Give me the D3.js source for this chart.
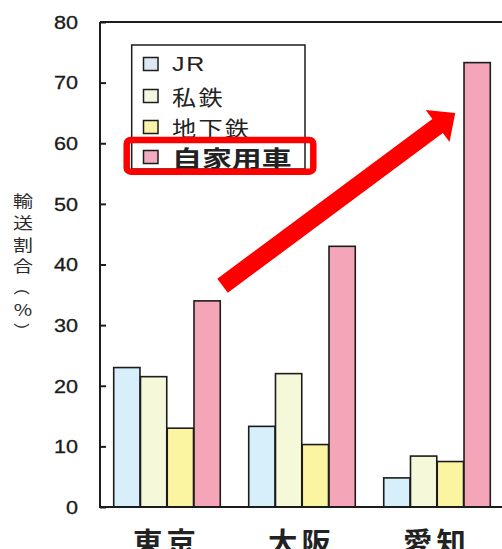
<!DOCTYPE html>
<html>
<head>
<meta charset="utf-8">
<script src="https://cdn.jsdelivr.net/npm/d3@7/dist/d3.min.js"></script>
<style>
  html, body { margin: 0; padding: 0; background: #ffffff; }
  svg { display: block; }
</style>
</head>
<body>
<svg id="chart" width="502" height="549"></svg>
<script>
// Transport share by mode in three metropolitan areas (%)
const categories = ["東京", "大阪", "愛知"];
const seriesNames = ["JR", "私鉄", "地下鉄", "自家用車"];
const jrValues = [23, 13.3, 4.8];
const privateRailValues = [21.5, 22, 8.4];
const subwayValues = [13, 10.3, 7.5];
const carValues = [34, 43, 73.3];
const yTicks = [0, 10, 20, 30, 40, 50, 60, 70, 80];
// Vertical title; parentheses are rotated to sit in the column
const yTitleChars = ["輸", "送", "割", "合", "（", "%", "）"];

const seriesValues = [jrValues, privateRailValues, subwayValues, carValues];
const fills = ["#d7effb", "#f5f8d9", "#fbf5a2", "#f4a5b8"];
const swatchFills = ["#dde8f3", "#f3f6e2", "#f8f3a8", "#f2aac0"];

const svg = d3.select("#chart");
const plot = { left: 100, right: 503, top: 22, bottom: 507 };
const ink = "#1c1c1c";
const cjk = "'Noto Sans CJK JP', 'Noto Sans', sans-serif";

const x0 = d3.scaleBand()
  .domain(categories)
  .range([plot.left, plot.right])
  .paddingInner(0.207)
  .paddingOuter(0.096);

const x1 = d3.scaleBand()
  .domain(seriesNames)
  .range([0, x0.bandwidth()]);

const y = d3.scaleLinear().domain([0, 80]).range([plot.bottom, plot.top]);

// Bars
const groups = svg.append("g").selectAll("g")
  .data(categories)
  .join("g")
  .attr("transform", d => `translate(${x0(d)},0)`);

groups.selectAll("rect")
  .data((c, ci) => seriesNames.map((s, si) => ({ s, si, v: seriesValues[si][ci] })))
  .join("rect")
  .attr("x", d => x1(d.s) + 0.75)
  .attr("width", x1.bandwidth() - 0.5)
  .attr("y", d => y(d.v))
  .attr("height", d => y(0) - y(d.v))
  .attr("fill", d => fills[d.si])
  .attr("stroke", ink)
  .attr("stroke-width", 1.6);

// Frame: left axis, top edge, baseline
const frame = svg.append("g").attr("stroke", ink).attr("stroke-width", 2).attr("fill", "none");
frame.append("line").attr("x1", plot.left).attr("x2", plot.left).attr("y1", plot.top).attr("y2", plot.bottom);
frame.append("line").attr("x1", plot.left).attr("x2", 502).attr("y1", plot.top).attr("y2", plot.top);
frame.append("line").attr("x1", plot.left - 1).attr("x2", 502).attr("y1", plot.bottom).attr("y2", plot.bottom);

// Y axis: inward ticks, labels on the left
const yAxis = d3.axisLeft(y).tickValues(yTicks).tickSize(-6).tickPadding(0).tickFormat(d3.format("d"));
const yAxisG = svg.append("g").attr("transform", `translate(${plot.left},0)`).call(yAxis);
yAxisG.select(".domain").remove();
yAxisG.selectAll(".tick line").attr("stroke", ink).attr("stroke-width", 2);
yAxisG.selectAll(".tick text")
  .attr("x", null).attr("dy", null)
  .attr("font-family", "'Liberation Sans', Arial, sans-serif")
  .attr("font-size", 18)
  .attr("fill", "#1a1a1a")
  .attr("stroke", "#1a1a1a").attr("stroke-width", 0.3)
  .attr("text-anchor", "end")
  .attr("dominant-baseline", "central")
  .attr("transform", "translate(-22,0) scale(1.2,1)");

// Y axis title, stacked vertically
svg.append("g").selectAll("text")
  .data(yTitleChars)
  .join("text")
  .attr("transform", (d, i) => {
    const base = `translate(23,${200 + i * 21.8})`;
    return (d === "（" || d === "）") ? `${base} rotate(90)` : `${base} scale(1.25,1)`;
  })
  .attr("text-anchor", "middle")
  .attr("dominant-baseline", "central")
  .attr("font-family", cjk)
  .attr("font-size", 16)
  .attr("fill", "#2a2a2a")
  .text(d => d);

// Category labels
svg.append("g").selectAll("text")
  .data(categories)
  .join("text")
  .attr("transform", d => `translate(${x0(d) + x0.bandwidth() / 2 - 2},553) scale(1.05,1)`)
  .attr("text-anchor", "middle")
  .attr("font-family", cjk)
  .attr("font-weight", "bold")
  .attr("font-size", 28)
  .attr("letter-spacing", 4)
  .attr("dx", 2)
  .attr("fill", "#222")
  .text(d => d);

// Legend
const legend = svg.append("g");
legend.append("rect")
  .attr("x", 131.7).attr("y", 45).attr("width", 173.3).attr("height", 124)
  .attr("fill", "#fff").attr("stroke", ink).attr("stroke-width", 1.5);

const rowY = [64, 96, 127, 157];
const rows = legend.selectAll("g.row")
  .data(seriesNames)
  .join("g")
  .attr("class", "row")
  .attr("transform", (d, i) => `translate(0,${rowY[i]})`);

rows.append("rect")
  .attr("x", 143.5).attr("y", -6.5).attr("width", 14.5).attr("height", 13)
  .attr("fill", (d, i) => swatchFills[i])
  .attr("stroke", ink).attr("stroke-width", 1.5);

rows.append("text")
  .attr("transform", (d, i) => i === 0 ? "translate(172,0) scale(1.25,1)"
    : i === 3 ? "translate(172,0) scale(1.3,1)" : "translate(172,0) scale(1.15,1)")
  .attr("dominant-baseline", "central")
  .attr("font-family", (d, i) => i === 0 ? "'Liberation Sans', Arial, sans-serif" : cjk)
  .attr("font-size", (d, i) => i === 0 ? 20 : i === 3 ? 23 : 21)
  .attr("font-weight", (d, i) => i === 3 ? "bold" : "normal")
  .attr("letter-spacing", (d, i) => i === 0 ? 1.5 : i === 3 ? 0 : 2)
  .attr("fill", "#222")
  .text(d => d);

// Highlight around the private-car legend entry
legend.append("rect")
  .attr("x", 126.7).attr("y", 140).attr("width", 186.6).attr("height", 31.7)
  .attr("rx", 4)
  .attr("fill", "none").attr("stroke", "#ff0000").attr("stroke-width", 6.5);

// Arrow from the Tokyo car bar up toward the Aichi car bar
const tail = [x0("東京") + x1("自家用車") + x1.bandwidth() + 2.5, y(36.5)];
const tip = [x0("愛知") + x1("自家用車") - 8, y(65)];
const dx = tip[0] - tail[0], dy = tip[1] - tail[1];
const len = Math.hypot(dx, dy);
const ux = dx / len, uy = dy / len, px = -uy, py = ux;
const shaftHalf = 8.8, headHalf = 20, headLen = 22;
const pt = (a, b) => [tail[0] + ux * a + px * b, tail[1] + uy * a + py * b];
const arrowPts = [
  pt(0, -shaftHalf), pt(len - headLen, -shaftHalf), pt(len - headLen, -headHalf),
  pt(len, 0),
  pt(len - headLen, headHalf), pt(len - headLen, shaftHalf), pt(0, shaftHalf)
];
svg.append("path")
  .attr("d", d3.line()(arrowPts) + "Z")
  .attr("fill", "#ff0000");
</script>
</body>
</html>
